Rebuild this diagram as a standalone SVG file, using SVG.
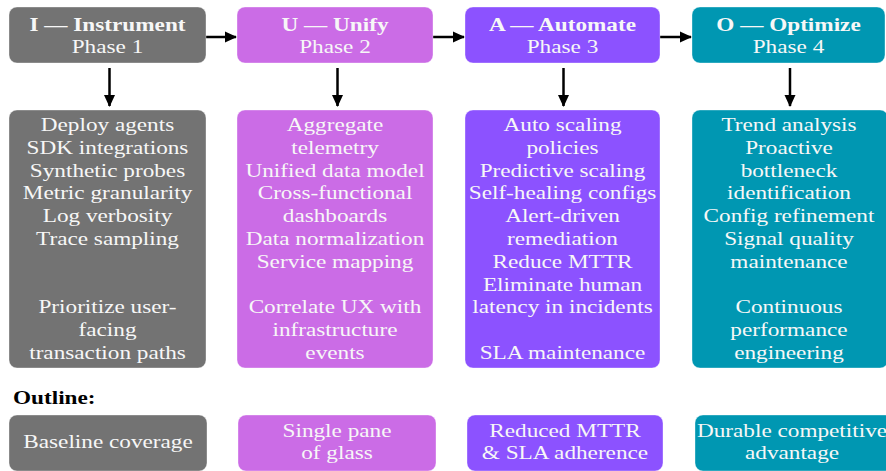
<svg xmlns="http://www.w3.org/2000/svg" width="886" height="471" viewBox="0 0 886 471">
<defs>
<style>
.t{font-family:"Liberation Serif","Times New Roman",serif;font-size:18px;fill:#f7f7f7;text-anchor:middle}
.b{font-weight:bold}
.gray{fill:#737373}
.pink{fill:#cb6ce6}
.purple{fill:#8c52ff}
.teal{fill:#0097b2}
.box{stroke:#ffffff;stroke-opacity:0.35;stroke-width:1}
.conn{stroke:#000;stroke-width:2.5;fill:none}
</style>
<marker id="ah" markerUnits="userSpaceOnUse" markerWidth="12" markerHeight="12" refX="11" refY="6" orient="auto">
<path d="M0,0.5 L12,6 L0,11.5 Z" fill="#000"/>
</marker>
</defs>
<rect width="886" height="471" fill="#ffffff"/>

<g id="connectors">
<line class="conn" x1="206" y1="37" x2="236" y2="37" marker-end="url(#ah)"/>
<line class="conn" x1="433" y1="37" x2="464" y2="37" marker-end="url(#ah)"/>
<line class="conn" x1="660" y1="37" x2="691" y2="37" marker-end="url(#ah)"/>
<line class="conn" x1="109.5" y1="68" x2="109.5" y2="106" marker-end="url(#ah)"/>
<line class="conn" x1="337.5" y1="68" x2="337.5" y2="106" marker-end="url(#ah)"/>
<line class="conn" x1="563.5" y1="68" x2="563.5" y2="106" marker-end="url(#ah)"/>
<line class="conn" x1="790" y1="68" x2="790" y2="106" marker-end="url(#ah)"/>
</g>

<g id="phase1">
<rect class="box gray" x="9" y="7" width="197" height="56" rx="8"/>
<g transform="translate(107.5,0) scale(1.29,1)">
<text class="t b" x="0" y="31">I — Instrument</text>
<text class="t" x="0" y="53">Phase 1</text>
</g>
</g>
<g id="phase2">
<rect class="box pink" x="237" y="7" width="196" height="56" rx="8"/>
<g transform="translate(335,0) scale(1.29,1)">
<text class="t b" x="0" y="31">U — Unify</text>
<text class="t" x="0" y="53">Phase 2</text>
</g>
</g>
<g id="phase3">
<rect class="box purple" x="465" y="7" width="195" height="56" rx="8"/>
<g transform="translate(562.5,0) scale(1.29,1)">
<text class="t b" x="0" y="31">A — Automate</text>
<text class="t" x="0" y="53">Phase 3</text>
</g>
</g>
<g id="phase4">
<rect class="box teal" x="692" y="7" width="193" height="56" rx="8"/>
<g transform="translate(788.5,0) scale(1.29,1)">
<text class="t b" x="0" y="31">O — Optimize</text>
<text class="t" x="0" y="53">Phase 4</text>
</g>
</g>

<g id="detail1">
<rect class="box gray" x="9" y="110" width="197" height="258" rx="8"/>
<g transform="translate(107.5,0) scale(1.29,1)">
<text class="t" x="0" y="131">Deploy agents</text>
<text class="t" x="0" y="153.8">SDK integrations</text>
<text class="t" x="0" y="176.6">Synthetic probes</text>
<text class="t" x="0" y="199.4">Metric granularity</text>
<text class="t" x="0" y="222.2">Log verbosity</text>
<text class="t" x="0" y="245">Trace sampling</text>
<text class="t" x="0" y="313.4">Prioritize user-</text>
<text class="t" x="0" y="336.2">facing</text>
<text class="t" x="0" y="359">transaction paths</text>
</g>
</g>
<g id="detail2">
<rect class="box pink" x="237" y="110" width="196" height="258" rx="8"/>
<g transform="translate(335,0) scale(1.29,1)">
<text class="t" x="0" y="131">Aggregate</text>
<text class="t" x="0" y="153.8">telemetry</text>
<text class="t" x="0" y="176.6">Unified data model</text>
<text class="t" x="0" y="199.4">Cross-functional</text>
<text class="t" x="0" y="222.2">dashboards</text>
<text class="t" x="0" y="245">Data normalization</text>
<text class="t" x="0" y="267.8">Service mapping</text>
<text class="t" x="0" y="313.4">Correlate UX with</text>
<text class="t" x="0" y="336.2">infrastructure</text>
<text class="t" x="0" y="359">events</text>
</g>
</g>
<g id="detail3">
<rect class="box purple" x="465" y="110" width="195" height="258" rx="8"/>
<g transform="translate(562.5,0) scale(1.29,1)">
<text class="t" x="0" y="131">Auto scaling</text>
<text class="t" x="0" y="153.8">policies</text>
<text class="t" x="0" y="176.6">Predictive scaling</text>
<text class="t" x="0" y="199.4">Self-healing configs</text>
<text class="t" x="0" y="222.2">Alert-driven</text>
<text class="t" x="0" y="245">remediation</text>
<text class="t" x="0" y="267.8">Reduce MTTR</text>
<text class="t" x="0" y="290.6">Eliminate human</text>
<text class="t" x="0" y="313.4">latency in incidents</text>
<text class="t" x="0" y="359">SLA maintenance</text>
</g>
</g>
<g id="detail4">
<rect class="box teal" x="692" y="110" width="196" height="258" rx="8"/>
<g transform="translate(789,0) scale(1.29,1)">
<text class="t" x="0" y="131">Trend analysis</text>
<text class="t" x="0" y="153.8">Proactive</text>
<text class="t" x="0" y="176.6">bottleneck</text>
<text class="t" x="0" y="199.4">identification</text>
<text class="t" x="0" y="222.2">Config refinement</text>
<text class="t" x="0" y="245">Signal quality</text>
<text class="t" x="0" y="267.8">maintenance</text>
<text class="t" x="0" y="313.4">Continuous</text>
<text class="t" x="0" y="336.2">performance</text>
<text class="t" x="0" y="359">engineering</text>
</g>
</g>

<g id="outline-label">
<text transform="translate(13,404) scale(1.29,1)" x="0" y="0" style="font-family:'Liberation Serif','Times New Roman',serif;font-size:18px;font-weight:bold;fill:#000">Outline:</text>
</g>

<g id="outcome1">
<rect class="box gray" x="9" y="415" width="198" height="56" rx="8"/>
<g transform="translate(108,0) scale(1.29,1)">
<text class="t" x="0" y="448">Baseline coverage</text>
</g>
</g>
<g id="outcome2">
<rect class="box pink" x="238" y="415" width="198" height="56" rx="8"/>
<g transform="translate(337,0) scale(1.29,1)">
<text class="t" x="0" y="437">Single pane</text>
<text class="t" x="0" y="459">of glass</text>
</g>
</g>
<g id="outcome3">
<rect class="box purple" x="467" y="415" width="196" height="56" rx="8"/>
<g transform="translate(565,0) scale(1.29,1)">
<text class="t" x="0" y="437">Reduced MTTR</text>
<text class="t" x="0" y="459">&amp; SLA adherence</text>
</g>
</g>
<g id="outcome4">
<rect class="box teal" x="695" y="415" width="198" height="56" rx="8"/>
<g transform="translate(792,0) scale(1.29,1)">
<text class="t" x="0" y="437">Durable competitive</text>
<text class="t" x="0" y="459">advantage</text>
</g>
</g>
</svg>
